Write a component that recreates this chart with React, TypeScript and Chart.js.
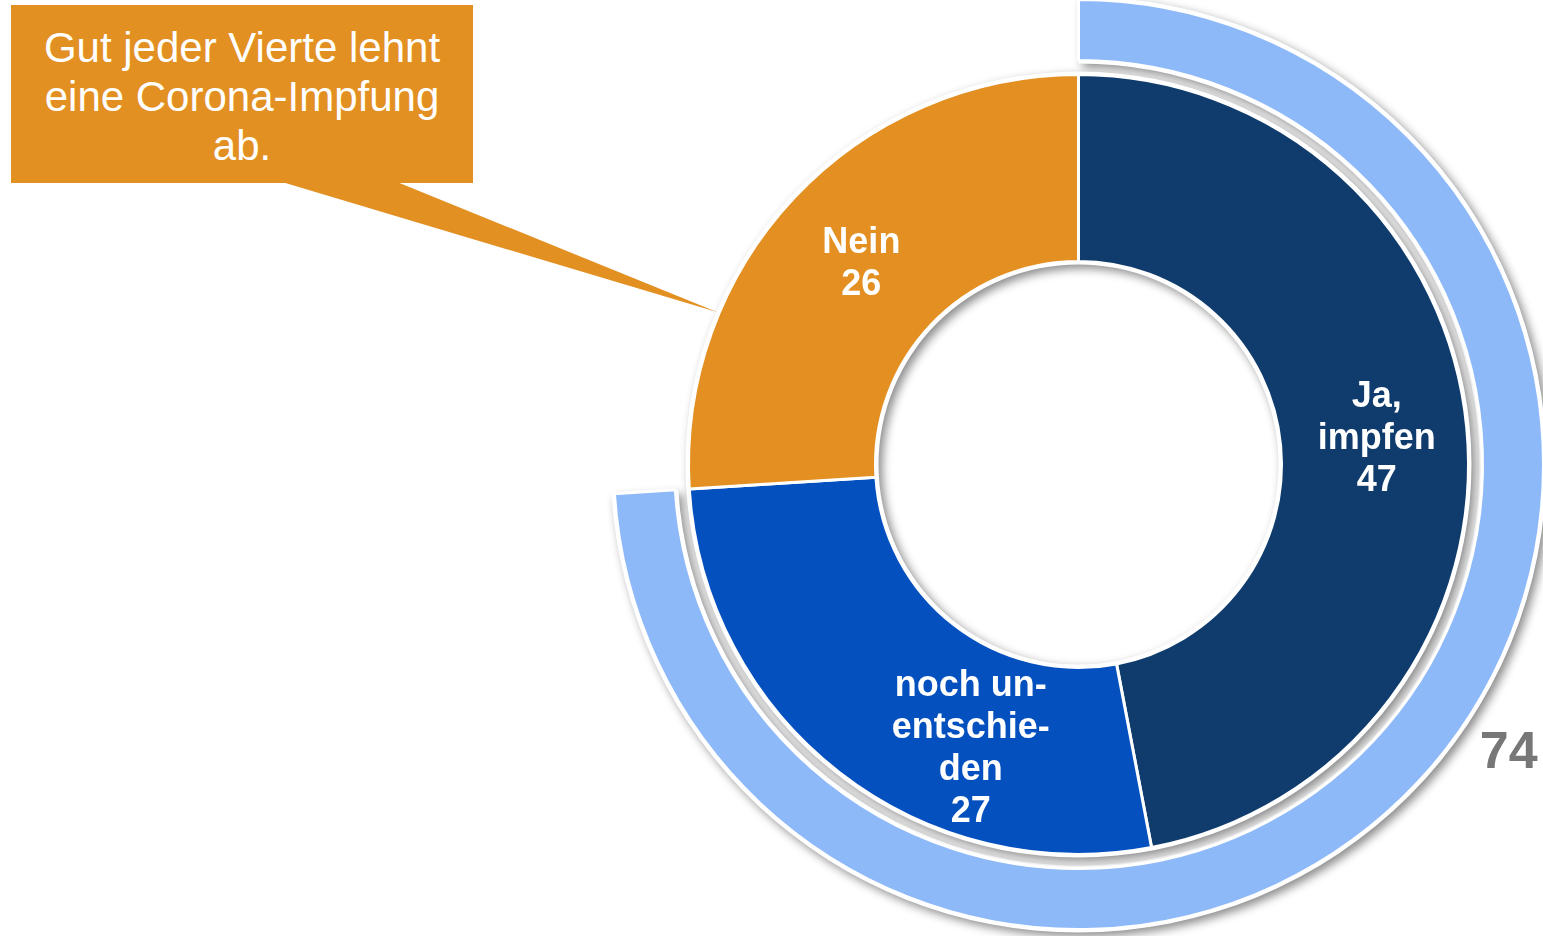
import React, { useEffect, useRef } from "react";
import { Chart, ArcElement, DoughnutController } from "chart.js";

Chart.register(ArcElement, DoughnutController);

// ---- data ----
const categories = ["Ja, impfen", "noch unentschieden", "Nein"];
const categoryLines = [["Ja,", "impfen"], ["noch un-", "entschie-", "den"], ["Nein"]];
const values = [47, 27, 26];
const colors = ["#0f3c6d", "#0550bf", "#e38f22"];
const labelOffsets = [[3, 0], [74, 47], [-1, 0]];

const ringCategories = ["Ja oder unentschieden", "Rest"];
const ringValues = [74, 26];
const ringColors = ["#8eb9f9", "rgba(0,0,0,0)"];

const calloutLines = ["Gut jeder Vierte lehnt", "eine Corona-Impfung", "ab."];

const FONT = "'Liberation Sans', Arial, Helvetica, sans-serif";

const shadowPlugin = {
  id: "ringShadow",
  beforeDatasetsDraw(chart: any) {
    const ctx = chart.ctx;
    const draw = (dsIndex: number, first: number, last: number) => {
      const meta = chart.getDatasetMeta(dsIndex);
      const a = meta.data[first].getProps(["x", "y", "startAngle", "innerRadius", "outerRadius"], true);
      const b = meta.data[last].getProps(["endAngle"], true);
      ctx.save();
      ctx.shadowColor = "rgba(0,0,0,0.45)";
      ctx.shadowBlur = 10;
      ctx.shadowOffsetX = 4;
      ctx.shadowOffsetY = 4;
      ctx.beginPath();
      ctx.arc(a.x, a.y, a.outerRadius + 3, a.startAngle, b.endAngle);
      ctx.arc(a.x, a.y, Math.max(a.innerRadius - 3, 0), b.endAngle, a.startAngle, true);
      ctx.closePath();
      ctx.fillStyle = "#ffffff";
      ctx.fill();
      ctx.restore();
    };
    draw(0, 0, 0);
    draw(2, 0, values.length - 1);
  },
};

const labelPlugin = {
  id: "segLabels",
  afterDatasetsDraw(chart: any) {
    const ctx = chart.ctx;
    const meta = chart.getDatasetMeta(2);
    const size = 36;
    const lh = 42;
    ctx.save();
    ctx.font = `bold ${size}px ${FONT}`;
    ctx.fillStyle = "#ffffff";
    ctx.textAlign = "center";
    ctx.textBaseline = "alphabetic";
    meta.data.forEach((arc: any, i: number) => {
      const p = arc.tooltipPosition(true);
      const lines = [...categoryLines[i], String(values[i])];
      const cx = p.x + labelOffsets[i][0];
      const cy = p.y + labelOffsets[i][1];
      const cap = size * 0.716;
      lines.forEach((t, j) => {
        const by = cy - ((lines.length - 1) * lh) / 2 + j * lh + cap / 2;
        ctx.fillText(t, cx, by);
      });
    });
    // outer ring value label
    const ring = chart.getDatasetMeta(0).data[0].getProps(["x", "y", "outerRadius"], true);
    const ang = (33.5 * Math.PI) / 180;
    const r = ring.outerRadius + 51;
    const lx = ring.x + r * Math.cos(ang);
    const ly = ring.y + r * Math.sin(ang);
    ctx.font = `bold 52px ${FONT}`;
    ctx.fillStyle = "#777777";
    ctx.fillText(String(ringValues[0]), lx, ly + 52 * 0.716 / 2);
    ctx.restore();
  },
};

export default function App() {
  const ref = useRef<HTMLCanvasElement | null>(null);

  useEffect(() => {
    if (!ref.current) return;
    const chart = new Chart(ref.current, {
      type: "doughnut",
      data: {
        labels: categories,
        datasets: [
          {
            label: "Ring",
            data: ringValues,
            backgroundColor: ringColors,
            borderColor: ["#ffffff", "rgba(0,0,0,0)"],
            borderWidth: [3, 0],
            weight: 61,
          } as any,
          {
            label: "spacer",
            data: [100],
            backgroundColor: ["rgba(0,0,0,0)"],
            borderWidth: 0,
            weight: 14,
          } as any,
          {
            label: "Impfbereitschaft",
            data: values,
            backgroundColor: colors,
            borderColor: "#ffffff",
            borderWidth: 3,
            weight: 187,
          } as any,
        ],
      },
      options: {
        responsive: false,
        animation: false,
        events: [],
        cutout: 203,
        rotation: 0,
        layout: { padding: { left: 612, right: 0, top: 0, bottom: 5 } },
        plugins: {
          legend: { display: false },
          tooltip: { enabled: false },
        },
      } as any,
      plugins: [shadowPlugin, labelPlugin],
    });
    return () => chart.destroy();
  }, []);

  return (
    <div style={{ position: "absolute", left: 0, top: 0, width: 1543, height: 936, background: "#ffffff", overflow: "hidden" }}>
      <canvas ref={ref} width={1545} height={938} style={{ position: "absolute", left: 0, top: -2, width: 1545, height: 938 }} />
      <svg width={1543} height={936} style={{ position: "absolute", left: 0, top: 0, pointerEvents: "none" }}>
        <polygon points="282,182 397,182 717,312" fill="#e39022" />
      </svg>
      <div
        style={{
          position: "absolute",
          left: 11,
          top: 5,
          width: 462,
          height: 178,
          background: "#e39022",
          color: "#ffffff",
          fontFamily: FONT,
          fontSize: 42,
          lineHeight: "49px",
          textAlign: "center",
          whiteSpace: "nowrap",
          paddingTop: 18,
          boxSizing: "border-box",
        }}
      >
        {calloutLines.map((t, i) => (
          <div key={i}>{t}</div>
        ))}
      </div>
    </div>
  );
}
